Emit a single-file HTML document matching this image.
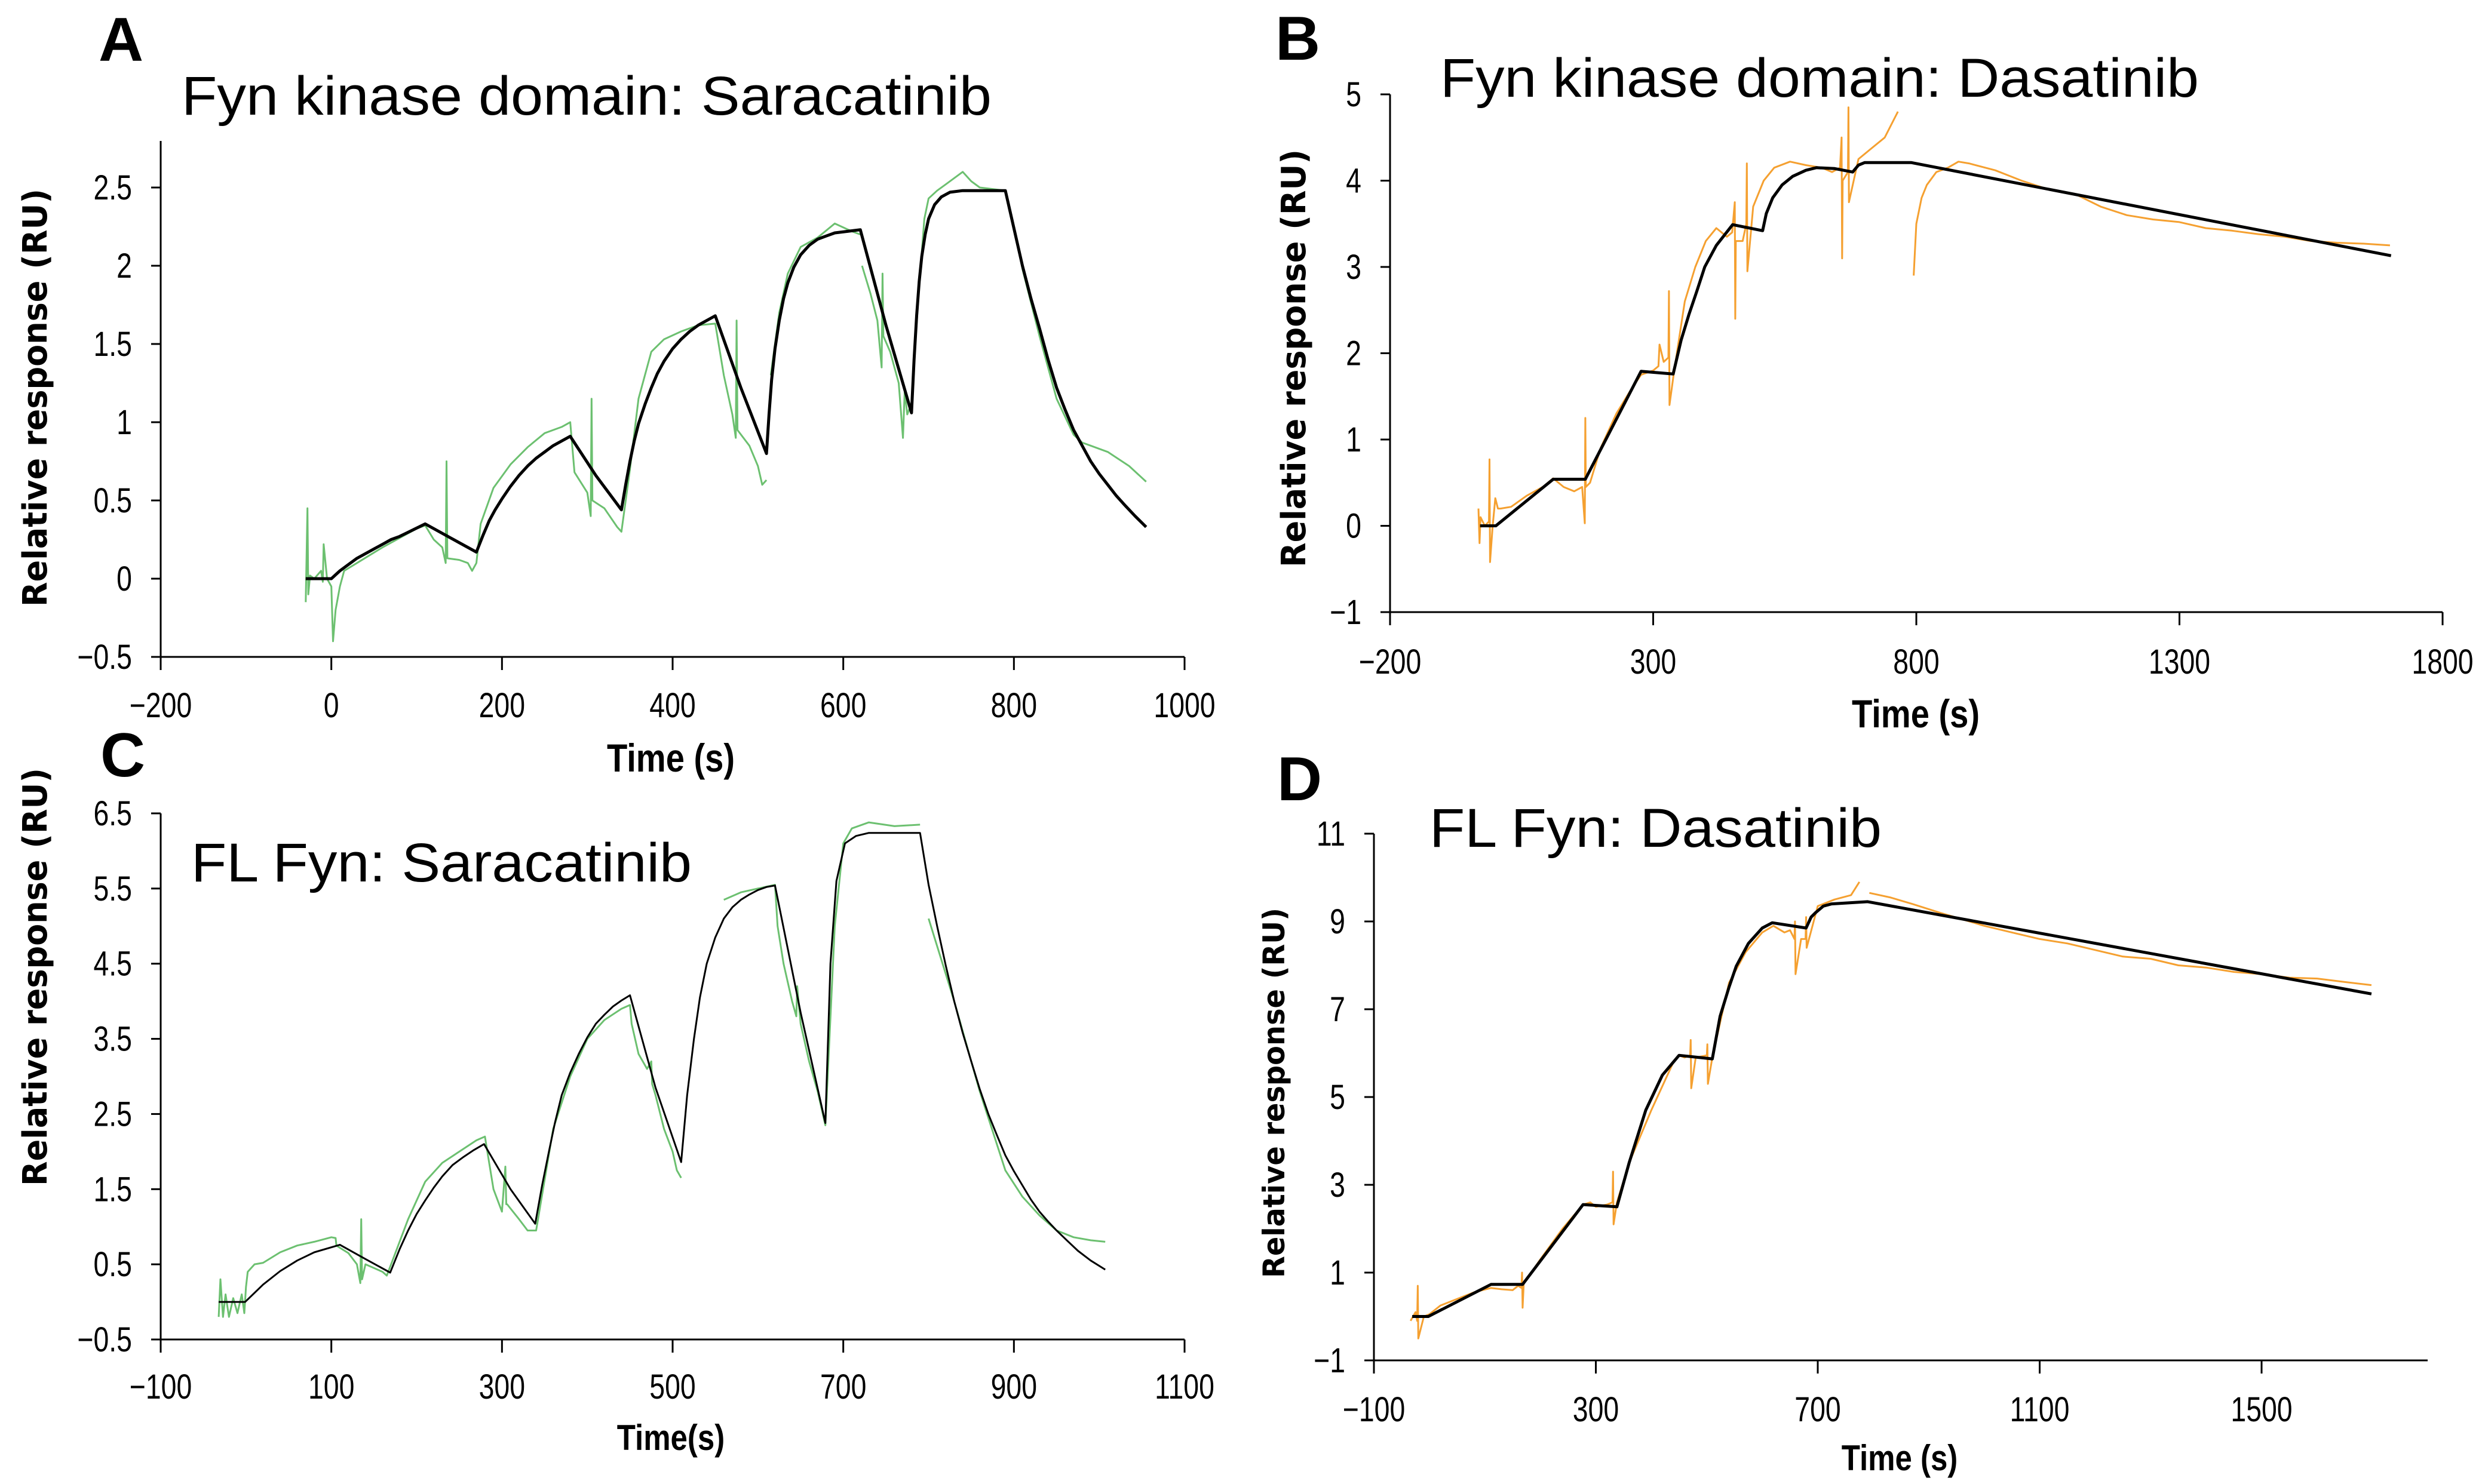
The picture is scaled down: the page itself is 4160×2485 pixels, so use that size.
<!DOCTYPE html>
<html><head><meta charset="utf-8"><style>
html,body{margin:0;padding:0;background:#fff}
svg{display:block}
</style></head><body>
<svg id="fig" width="4160" height="2485" viewBox="0 0 4160 2485" xmlns="http://www.w3.org/2000/svg"></svg>
<script>
// ---------- Panel A data ----------
const aXTicks=[-200,0,200,400,600,800,1000];
const aYTicks=[-0.5,0,0.5,1,1.5,2,2.5];
const aFitT=[-30,0,10,20,30,40,50,60,70,80,95,110,140,170,178,185,192,200,210,220,230,240,250,260,270,280,310,340,345,350,355,360,368,375,382,390,400,410,420,430,440,450,480,510,513,516,520,525,530,535,542,550,560,570,580,590,605,620,650,680,683,686,689,692,696,700,707,715,725,740,790,800,810,820,830,840,850,860,870,880,890,900,910,920,930,942,955];
const aFitY=[0,0,0.05,0.09,0.13,0.16,0.19,0.22,0.25,0.27,0.31,0.35,0.26,0.17,0.28,0.37,0.44,0.51,0.59,0.66,0.72,0.77,0.81,0.85,0.88,0.91,0.66,0.44,0.6,0.75,0.88,0.99,1.12,1.22,1.31,1.39,1.47,1.53,1.58,1.62,1.65,1.68,1.22,0.80,1.05,1.27,1.47,1.65,1.79,1.89,1.99,2.07,2.13,2.17,2.19,2.21,2.22,2.23,1.62,1.06,1.4,1.68,1.9,2.06,2.2,2.3,2.39,2.44,2.47,2.48,2.48,2.24,2.0,1.79,1.6,1.4,1.22,1.08,0.95,0.85,0.75,0.67,0.6,0.53,0.47,0.4,0.33];
const aDatT=[-30,-28,-27,-25,-20,-12,-10,-9,-5,0,2,5,10,15,30,45,60,80,100,110,120,130,134,135,136,150,160,165,170,175,190,210,230,250,270,280,285,300,304,305,306,320,335,340,350,360,375,390,410,430,450,460,470,474,475,476,490,500,505,510];
const aDatY=[-0.15,0.45,-0.1,0.02,0.0,0.05,-0.02,0.22,0.0,-0.05,-0.4,-0.2,-0.05,0.05,0.1,0.15,0.2,0.26,0.32,0.34,0.25,0.2,0.1,0.75,0.13,0.12,0.1,0.05,0.1,0.35,0.58,0.73,0.84,0.93,0.97,1.0,0.68,0.55,0.4,1.15,0.5,0.45,0.33,0.3,0.7,1.15,1.45,1.53,1.58,1.62,1.63,1.3,1.05,0.9,1.65,0.95,0.85,0.72,0.6,0.63];
const aDat2T=[515,525,535,550,570,590,610,620];
const aDat2Y=[1.3,1.7,1.95,2.12,2.18,2.27,2.22,2.2];
const aDat3T=[622,632,640,645,646,647,655,665,670,672,675,680,688,695,700,710,720,740,750,760,790,800,810,830,850,870,880,890,910,935,955];
const aDat3Y=[2.0,1.82,1.65,1.35,1.95,1.55,1.45,1.25,0.9,1.2,1.05,1.12,1.8,2.3,2.43,2.48,2.52,2.6,2.54,2.5,2.48,2.25,1.98,1.55,1.15,0.92,0.87,0.85,0.81,0.72,0.62];
// ---------- Panel B data ----------
const bXTicks=[-200,300,800,1300,1800];
const bYTicks=[-1,0,1,2,3,4,5];
const bFitT=[-29,1,110,171,277,338,353,368,383,398,420,451,508,515,527,545,565,590,610,645,679,690,702,790,1702];
const bFitY=[0,0,0.54,0.54,1.79,1.76,2.15,2.45,2.72,3.0,3.25,3.49,3.42,3.62,3.8,3.95,4.05,4.12,4.15,4.14,4.1,4.18,4.21,4.21,3.13];
const bDatT=[-32,-30,-28,-20,-12,-11,-10,-5,0,5,10,30,60,90,110,130,150,165,170,171,172,180,200,230,260,277,300,310,312,320,329,330,331,340,360,380,400,420,440,450,455,456,457,470,477,478,479,490,510,530,560,590,620,640,655,658,659,660,670,671,672,690,710,740,765];
const bDatY=[0.2,-0.2,0.1,0.0,0.05,0.77,-0.42,0.0,0.32,0.2,0.2,0.22,0.35,0.45,0.55,0.45,0.4,0.45,0.03,1.25,0.45,0.5,0.9,1.3,1.6,1.75,1.8,1.85,2.1,1.9,1.95,2.72,1.4,1.8,2.6,3.0,3.3,3.45,3.35,3.4,3.75,2.4,3.3,3.3,3.5,4.2,2.95,3.7,4.0,4.15,4.22,4.18,4.15,4.1,4.15,4.5,3.1,4.0,4.1,4.85,3.75,4.25,4.35,4.5,4.8];
const bDat2T=[795,800,810,820,838,860,880,900,950,1000,1050,1100,1150,1200,1250,1300,1350,1400,1450,1500,1550,1600,1650,1700];
const bDat2Y=[2.9,3.5,3.8,3.95,4.1,4.15,4.22,4.2,4.12,4.0,3.9,3.85,3.7,3.6,3.55,3.52,3.45,3.42,3.38,3.35,3.3,3.28,3.27,3.25];
// ---------- Panel C data ----------
const cXTicks=[-100,100,300,500,700,900,1100];
const cYTicks=[-0.5,0.5,1.5,2.5,3.5,4.5,5.5,6.5];
const cFitT=[-32,-1,20,40,60,80,110,140,169,180,190,200,210,220,230,242,255,267,279,310,339,347,355,362,370,380,390,400,410,420,430,440,450,480,510,517,525,532,540,550,560,570,580,590,600,610,620,650,679,685,692,702,715,730,790,800,810,820,830,840,850,860,870,880,890,900,910,920,930,940,950,962,975,990,1007];
const cFitY=[0,0,0.23,0.41,0.55,0.66,0.76,0.57,0.39,0.7,0.95,1.17,1.35,1.52,1.67,1.82,1.93,2.02,2.1,1.5,1.04,1.55,2.0,2.38,2.75,3.05,3.3,3.52,3.7,3.82,3.93,4.01,4.08,2.85,1.86,2.75,3.5,4.05,4.5,4.85,5.1,5.25,5.35,5.42,5.48,5.52,5.54,3.85,2.38,4.5,5.6,6.1,6.2,6.24,6.24,5.55,5.0,4.48,4.0,3.58,3.2,2.83,2.5,2.22,1.95,1.74,1.55,1.36,1.2,1.07,0.95,0.82,0.68,0.55,0.43];
const cDatT=[-32,-30,-27,-24,-20,-15,-10,-5,-2,0,2,10,20,40,60,80,100,105,106,110,120,130,134,135,136,140,150,160,165,170,190,210,230,250,270,280,285,290,300,304,305,306,320,330,340,360,380,400,420,440,450,452,460,470,475,476,480,490,500,505,510];
const cDatY=[-0.2,0.3,-0.2,0.1,-0.2,0.05,-0.15,0.1,-0.15,0.2,0.4,0.5,0.52,0.66,0.75,0.8,0.86,0.85,0.75,0.72,0.65,0.5,0.25,1.1,0.3,0.5,0.45,0.4,0.35,0.5,1.1,1.6,1.85,2.0,2.15,2.2,1.85,1.5,1.2,1.8,1.3,1.3,1.1,0.95,0.95,2.3,3.0,3.5,3.75,3.9,3.95,3.7,3.3,3.1,3.2,2.9,2.75,2.3,2.0,1.75,1.65];
const cDat2T=[560,580,600,620,623,630,640,645,646,650,660,670,679,690,700,710,730,760,790];
const cDat2Y=[5.35,5.45,5.5,5.55,5.0,4.5,4.0,3.8,4.2,3.7,3.2,2.8,2.35,5.0,6.1,6.3,6.38,6.33,6.35];
const cDat3T=[800,830,860,890,910,930,950,970,990,1007];
const cDat3Y=[5.1,4.0,2.8,1.75,1.4,1.15,0.95,0.86,0.82,0.8];
// ---------- Panel D data ----------
const dXTicks=[-100,300,700,1100,1500];
const dYTicks=[-1,1,3,5,7,9,11];
const dFitT=[-31,-2,111,168,277,338,360,390,420,450,510,524,540,553,575,600,618,679,688,696,710,725,790,1698];
const dFitY=[0,0,0.73,0.73,2.55,2.5,3.5,4.7,5.5,5.95,5.87,6.84,7.5,7.98,8.5,8.85,8.97,8.85,9.1,9.2,9.35,9.4,9.45,7.35];
const dDatT=[-34,-25,-22,-21,-20,-10,0,20,50,80,111,130,150,160,166,167,168,170,200,240,277,290,300,320,330,331,332,338,360,400,440,450,460,470,471,472,480,500,501,502,510,540,570,600,620,640,650,658,659,660,670,678,679,680,700,730,760,775];
const dDatY=[-0.1,0.1,-0.1,0.7,-0.5,0.0,0.05,0.25,0.4,0.55,0.65,0.62,0.6,0.7,0.65,1.0,0.2,0.75,1.3,2.0,2.55,2.6,2.5,2.55,2.6,3.3,2.1,2.6,3.5,4.7,5.8,5.95,5.9,5.95,6.3,5.2,5.9,5.95,6.2,5.3,5.9,7.6,8.3,8.75,8.9,8.75,8.8,8.6,9.0,7.8,8.6,8.6,9.1,8.4,9.35,9.5,9.6,9.9];
const dDat2T=[793,830,870,920,960,1000,1050,1100,1150,1200,1250,1300,1350,1400,1450,1500,1550,1600,1650,1698];
const dDat2Y=[9.65,9.55,9.4,9.2,9.05,8.9,8.75,8.6,8.5,8.35,8.2,8.15,8.0,7.95,7.85,7.8,7.72,7.7,7.62,7.55];

const NS='http://www.w3.org/2000/svg';
const svg=document.getElementById('fig');
function mk(tag,attrs,parent){const e=document.createElementNS(NS,tag);for(const k in attrs)e.setAttribute(k,attrs[k]);(parent||svg).appendChild(e);return e;}
function fmt(v){return (v<0?'\u2212':'')+String(Math.abs(v));}
const TF='"Liberation Sans",sans-serif';

function panel(p){
  const g=mk('g',{});
  
  
  const sx=t=>p.x0+(t-p.t0)/(p.t1-p.t0)*(p.x1-p.x0);
  const sy=v=>p.y0+(v-p.v0)/(p.v1-p.v0)*(p.y1-p.y0);
  const ya=mk('line',{x1:p.x0,y1:p.ytop,x2:p.x0,y2:p.y0,stroke:'#000','stroke-width':3},g);
  
  
  const xa=mk('line',{x1:p.x0,y1:p.y0,x2:p.xend,y2:p.y0,stroke:'#000','stroke-width':3},g);
  
  
  p.yt.forEach(v=>{
    const y=sy(v);
    mk('line',{x1:p.x0-16,y1:y,x2:p.x0,y2:y,stroke:'#000','stroke-width':3},g);
    const t=mk('text',{x:0,y:0,'text-anchor':'end','font-size':p.tfs,'font-family':TF,transform:`translate(${p.x0-48},${y+20}) scale(0.8,1)`},g);
    
    
    t.textContent=fmt(v);
  });
  p.xt.forEach(v=>{
    const x=sx(v);
    mk('line',{x1:x,y1:p.y0,x2:x,y2:p.y0+22,stroke:'#000','stroke-width':3},g);
    const t=mk('text',{x:0,y:0,'text-anchor':'middle','font-size':p.tfs,'font-family':TF,transform:`translate(${x},${p.xly+3}) scale(0.8,1)`},g);
    
    
    t.textContent=fmt(v);
  });
  p.data.forEach(([T,V])=>{
    const pts=T.map((t,i)=>sx(t).toFixed(1)+','+sy(V[i]).toFixed(1)).join(' ');
    const l=mk('polyline',{points:pts,fill:'none',stroke:p.dcol,'stroke-width':3,'stroke-linejoin':'round'},g);
    
    
  });
  const pts=p.fit[0].map((t,i)=>sx(t).toFixed(1)+','+sy(p.fit[1][i]).toFixed(1)).join(' ');
  const f=mk('polyline',{points:pts,fill:'none',stroke:'#000','stroke-width':p.fw,'stroke-linejoin':'round'},g);
  
  
  const tt=mk('text',{x:p.titx,y:p.tity,'font-size':92,'font-family':TF,textLength:p.titw,lengthAdjust:'spacingAndGlyphs'},g);
  
  
  tt.textContent=p.title;
  const lt=mk('text',{x:p.lx,y:p.ly,'font-size':104,'font-weight':'bold','font-family':TF},g);
  
  
  lt.textContent=p.id;
  const xt=mk('text',{x:0,y:0,'text-anchor':'middle','font-size':p.afs,'font-weight':'bold','font-family':TF,transform:`translate(${p.xtx},${p.xty}) scale(0.85,1)`},g);
  
  
  xt.textContent=p.xlab;
  const yt=mk('text',{x:0,y:0,'text-anchor':'middle','font-size':p.yfs,'font-weight':'bold','font-family':'"DejaVu Sans","Liberation Sans",sans-serif',textLength:p.ylen,lengthAdjust:'spacingAndGlyphs',transform:`translate(${p.ytx},${p.yty}) rotate(-90)`},g);
  
  
  yt.textContent='Relative response (RU)';
}

panel({id:'A',x0:269,x1:1983,t0:-200,t1:1000,xend:1983,y0:1100,y1:314,v0:-0.5,v1:2.5,ytop:236,
  xt:aXTicks,yt:aYTicks,tfs:58,xly:1198,fit:[aFitT,aFitY],fw:5,dcol:'#6cc070',
  data:[[aDatT,aDatY],[aDat2T,aDat2Y],[aDat3T,aDat3Y]],
  title:'Fyn kinase domain: Saracatinib',titx:304,tity:192,titw:1356,lx:165,ly:102,
  xlab:'Time (s)',xtx:1123,xty:1292,afs:66,ytx:78,yty:666,yfs:56,ylen:700});
panel({id:'B',x0:2327,x1:4089,t0:-200,t1:1800,xend:4089,y0:1025,y1:158,v0:-1,v1:5,ytop:158,
  xt:bXTicks,yt:bYTicks,tfs:58,xly:1125,fit:[bFitT,bFitY],fw:5,dcol:'#f5a030',
  data:[[bDatT,bDatY],[bDat2T,bDat2Y]],
  title:'Fyn kinase domain: Dasatinib',titx:2411,tity:162,titw:1270,lx:2135,ly:100,
  xlab:'Time (s)',xtx:3207,xty:1218,afs:66,ytx:2185,yty:600,yfs:56,ylen:700});
panel({id:'C',x0:269,x1:1983,t0:-100,t1:1100,xend:1983,y0:2243,y1:1362,v0:-0.5,v1:6.5,ytop:1362,
  xt:cXTicks,yt:cYTicks,tfs:58,xly:2339,fit:[cFitT,cFitY],fw:3,dcol:'#6cc070',
  data:[[cDatT,cDatY],[cDat2T,cDat2Y],[cDat3T,cDat3Y]],
  title:'FL Fyn: Saracatinib',titx:320,tity:1476,titw:838,lx:168,ly:1300,
  xlab:'Time(s)',xtx:1123,xty:2428,afs:60,ytx:78,yty:1636,yfs:56,ylen:700});
panel({id:'D',x0:2300,x1:3786,t0:-100,t1:1500,xend:4064,y0:2278,y1:1396,v0:-1,v1:11,ytop:1396,
  xt:dXTicks,yt:dYTicks,tfs:58,xly:2377,fit:[dFitT,dFitY],fw:5,dcol:'#f5a030',
  data:[[dDatT,dDatY],[dDat2T,dDat2Y]],
  title:'FL Fyn: Dasatinib',titx:2393,tity:1418,titw:757,lx:2138,ly:1340,
  xlab:'Time (s)',xtx:3180,xty:2462,afs:60,ytx:2150,yty:1830,yfs:50,ylen:620});
</script>
</body></html>
